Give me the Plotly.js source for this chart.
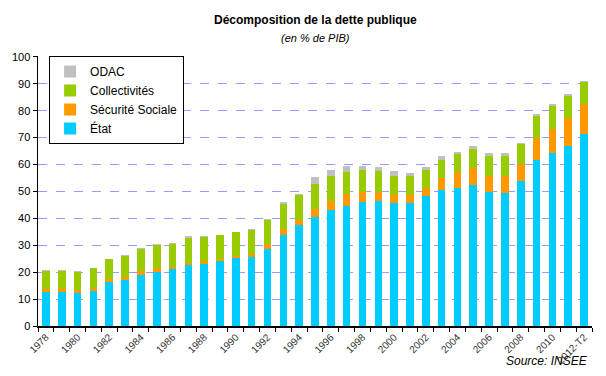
<!DOCTYPE html>
<html><head><meta charset="utf-8">
<script src="https://cdn.plot.ly/plotly-3.0.1.min.js"></script>
<style>html,body{margin:0;padding:0;background:#fff}</style>
</head><body><div id="chart" style="width:606px;height:376px"></div>
<script>
const categories = ["1978","1979","1980","1981","1982","1983","1984","1985","1986","1987","1988","1989","1990","1991","1992","1993","1994","1995","1996","1997","1998","1999","2000","2001","2002","2003","2004","2005","2006","2007","2008","2009","2010","2011","2012-T2"];
const etat = [12.7,12.7,12.2,13.1,16.4,17.2,18.9,20.1,21.1,22.6,23.1,24.1,25.3,25.6,28.5,33.7,37.4,40.4,43.1,44.6,46.0,46.3,45.6,45.6,48.3,50.7,51.2,52.2,49.8,49.3,53.7,61.6,64.1,66.8,71.2];
const securiteSociale = [1.0,1.0,1.3,1.1,1.0,0.9,1.5,1.5,0.8,0.9,1.0,0.7,0.7,1.2,2.0,2.2,2.0,2.9,3.2,4.4,3.8,3.5,2.9,2.9,2.9,4.2,6.0,6.4,6.1,6.4,6.4,8.2,8.9,10.4,11.1];
const collectivites = [6.7,6.7,6.6,7.3,7.4,7.8,8.1,8.4,8.5,9.1,8.9,8.9,8.8,8.8,8.9,9.3,9.1,9.4,9.4,8.2,8.1,7.6,7.4,7.2,6.7,6.7,6.6,7.0,7.2,7.4,7.4,8.1,8.6,8.1,8.2];
const odac = [0.3,0.3,0.4,0.1,0.1,0.4,0.4,0.4,0.5,0.7,0.3,0.1,0.1,0.3,0.2,0.7,0.4,2.5,2.4,2.1,1.4,1.5,1.5,1.0,1.0,1.4,1.0,1.1,1.0,1.0,0.6,1.0,0.7,0.7,0.4];
const tickLabels = categories.map((c,i)=> i%2===0 ? c : "");
const yTicks = [0,10,20,30,40,50,60,70,80,90,100];

const mk = (name, y, color) => ({type:'bar', name, x:categories, y, marker:{color}, hoverinfo:'y'});
const data = [
  mk('État', etat, '#00CCFF'),
  mk('Sécurité Sociale', securiteSociale, '#FF9900'),
  mk('Collectivités', collectivites, '#99CC00'),
  mk('ODAC', odac, '#C0C0C0')
];
const layout = {
  width:606, height:376,
  margin:{l:38, r:14, t:56, b:50},
  paper_bgcolor:'#fff', plot_bgcolor:'#fff',
  font:{family:'Liberation Sans, Arial, sans-serif', color:'#000'},
  barmode:'stack', bargap:0.52,
  showlegend:true,
  legend:{x:0.02, y:1, xanchor:'left', yanchor:'top', bordercolor:'#000', borderwidth:1, bgcolor:'#fff',
          traceorder:'reversed', font:{size:12, color:'#000'}, tracegroupgap:0, itemwidth:30},
  xaxis:{type:'category', tickmode:'array', tickvals:categories, ticktext:tickLabels, tickson:'boundaries',
         tickangle:-45, tickfont:{size:10, color:'#333'}, ticks:'outside', ticklen:4, tickcolor:'#000',
         showline:true, linecolor:'#000', linewidth:1.5, showgrid:false, zeroline:false, fixedrange:true},
  yaxis:{range:[0,100.3], tickvals:yTicks, ticks:'outside', ticklen:4, tickcolor:'#000', tickfont:{size:11, color:'#000'},
         showline:true, linecolor:'#000', linewidth:1.5, showgrid:true, gridcolor:'#9999FF', griddash:'dash', gridwidth:1,
         zeroline:false},
  annotations:[
    {text:'<b>Décomposition de la dette publique</b>', xref:'paper', yref:'paper', x:0.5, y:1.133, xanchor:'center', yanchor:'middle',
     showarrow:false, font:{size:12, color:'#000'}},
    {text:'<i>(en % de PIB)</i>', xref:'paper', yref:'paper', x:0.5, y:1.067, xanchor:'center', yanchor:'middle',
     showarrow:false, font:{size:11, color:'#000'}},
    {text:'<i>Source: INSEE</i>', xref:'paper', yref:'paper', x:0.996, y:-0.13, xanchor:'right', yanchor:'middle',
     showarrow:false, font:{size:12, color:'#000'}}]
};
Plotly.newPlot('chart', data, layout, {displayModeBar:false, staticPlot:true});
</script></body></html>
